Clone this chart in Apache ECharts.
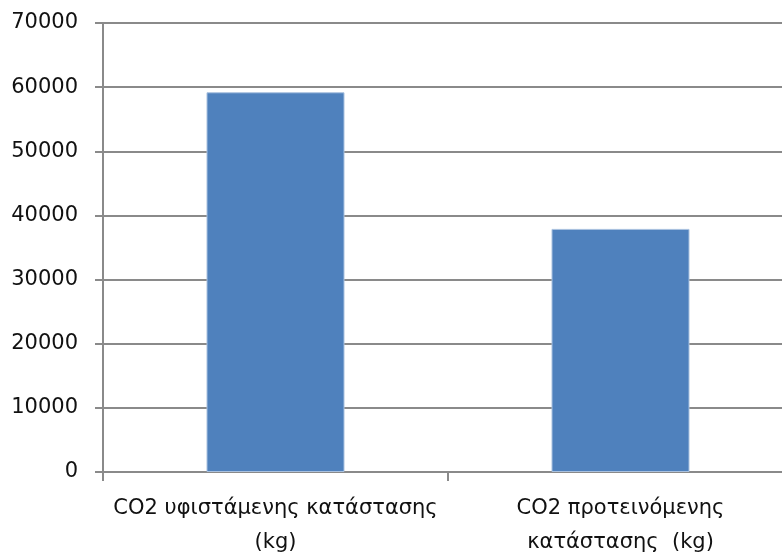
<!DOCTYPE html>
<html>
<head>
<meta charset="utf-8">
<script src="https://cdn.jsdelivr.net/npm/echarts@6/dist/echarts.min.js"></script>
<style>html,body{margin:0;padding:0;background:#fff;overflow:hidden}#c{width:793px;height:554px}</style>
</head>
<body>
<div id="c"></div>
<script>
var categories = ['CO2 υφιστάμενης κατάστασης\n(kg)', 'CO2 προτεινόμενης\nκατάστασης  (kg)'];
var values = [59200, 37900];
var yTicks = { min: 0, max: 70000, interval: 10000 };

var chart = echarts.init(document.getElementById('c'), null, { renderer: 'canvas' });
chart.setOption({
  animation: false,
  backgroundColor: '#ffffff',
  grid: { left: 103, top: 23, right: 0, bottom: 82, containLabel: false, outerBoundsMode: 'none' },
  xAxis: {
    type: 'category',
    data: categories,
    axisLine: { show: true, lineStyle: { color: '#8a8a8a', width: 2 } },
    axisTick: { show: true, length: 9, alignWithLabel: false, lineStyle: { color: '#8a8a8a', width: 2 } },
    axisLabel: { color: '#111', fontFamily: 'DejaVu Sans', fontSize: 21, lineHeight: 34, margin: 20, interval: 0 },
    splitLine: { show: false }
  },
  yAxis: {
    type: 'value',
    min: yTicks.min, max: yTicks.max, interval: yTicks.interval,
    axisLine: { show: true, lineStyle: { color: '#8a8a8a', width: 2 } },
    axisTick: { show: true, length: 8, lineStyle: { color: '#8a8a8a', width: 2 } },
    axisLabel: { color: '#111', fontFamily: 'DejaVu Sans', fontSize: 21, margin: 25, padding: [8, 0, 0, 0], formatter: function (v) { return String(v); } },
    splitLine: { show: true, lineStyle: { color: '#8a8a8a', width: 2 } }
  },
  series: [{
    type: 'bar',
    data: values,
    barWidth: '40%',
    itemStyle: { color: '#4f81bd', borderColor: '#a9c1df', borderWidth: 1 }
  }]
});
</script>
</body>
</html>
